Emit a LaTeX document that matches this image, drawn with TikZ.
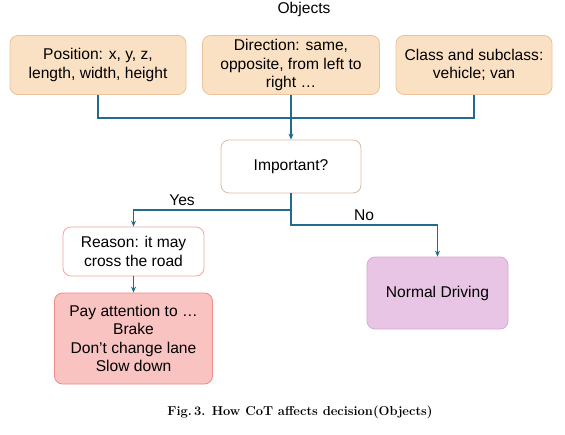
\documentclass[tikz,border=0pt]{standalone}
\usepackage{fontspec}
\setsansfont{Liberation Sans}
\usetikzlibrary{arrows.meta}
\definecolor{linkblue}{HTML}{236A8F}
\definecolor{attrfill}{HTML}{FBE1C4}
\definecolor{attrdraw}{HTML}{EAC39A}
\definecolor{askdraw}{HTML}{D9BCA8}
\definecolor{whydraw}{HTML}{F2A4A1}
\definecolor{actfill}{HTML}{F8C3C1}
\definecolor{actdraw}{HTML}{EE8C86}
\definecolor{normfill}{HTML}{E9C5E5}
\definecolor{normdraw}{HTML}{D8A8D5}
\tikzset{
  card/.style={rounded corners=8pt,line width=0.8pt,align=center,
    font=\sffamily\fontsize{15.6}{18.6}\selectfont,inner sep=0pt},
  attr/.style={card,fill=attrfill,draw=attrdraw,minimum height=59pt},
  link/.style={draw=linkblue,line width=1.5pt},
  linkarrow/.style={link,-{Stealth[length=6pt,width=5pt]}},
  tag/.style={font=\sffamily\fontsize{15.6}{18}\selectfont}
}
\begin{document}
\begin{tikzpicture}[x=1pt,y=-1pt]
  \useasboundingbox (0,0) rectangle (565,434);
  \node[tag] (title) at (304,9) {Objects};
  % the three attributes
  \node[attr,minimum width=176pt] (pos) at (98,65) {Position: x, y, z,\\length, width, height};
  \node[attr,minimum width=177pt] (dir) at (291,65) {Direction: same,\\opposite, from left to\\right \dots};
  \node[attr,minimum width=156pt] (cls) at (474,65) {Class and subclass:\\vehicle; van};
  \coordinate (bus) at (291,118);
  \draw[link] (pos.south) |- (bus) -| (cls.south);
  % question
  \node[card,draw=askdraw,fill=white,minimum width=140pt,minimum height=53pt] (imp) at (291,166.5) {Important?};
  \draw[linkarrow] (dir.south) -- (imp.north);
  % outcomes
  \node[card,draw=whydraw,fill=white,minimum width=141pt,minimum height=49pt] (why) at (133.5,251.5) {Reason: it may\\cross the road};
  \node[card,draw=actdraw,fill=actfill,minimum width=158pt,minimum height=91pt] (act) at (133.5,338.5) {Pay attention to \dots\\Brake\\Don't change lane\\Slow down};
  \node[card,draw=normdraw,fill=normfill,minimum width=141pt,minimum height=72pt] (norm) at (437.5,293) {Normal Driving};
  \coordinate (ysplit) at (291,210);
  \coordinate (nsplit) at (291,225);
  \draw[linkarrow] (imp.south) -- (ysplit) -| (why.north);
  \draw[linkarrow] (ysplit) -- (nsplit) -| (norm.north);
  \draw[linkarrow] (why.south) -- (act.north);
  \node[tag] (yes) at (182,200) {Yes};
  \node[tag] (no) at (364,215) {No};
  \node[font=\rmfamily\bfseries\fontsize{12.9}{15}\selectfont] (caption) at (300,412) {Fig.\,3. How CoT affects decision(Objects)};
\end{tikzpicture}
\end{document}
